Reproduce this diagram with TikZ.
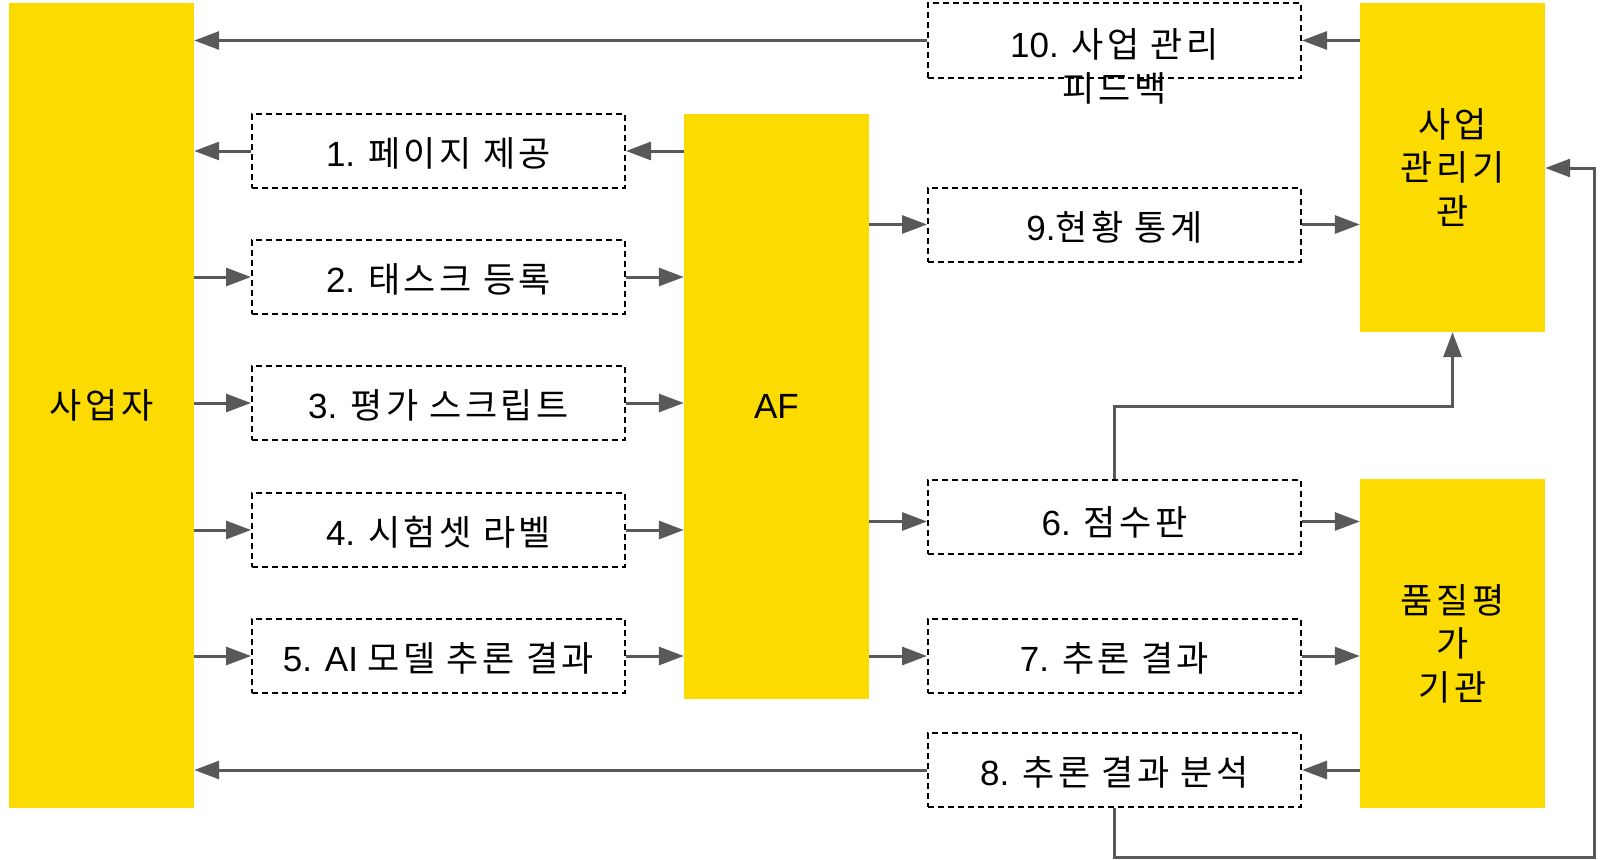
\documentclass[tikz,border=0pt]{standalone}
\usepackage{fontspec}
\setmainfont{Liberation Sans}
\newfontfamily\kr[LetterSpace=10]{Noto Sans CJK KR}
\usetikzlibrary{arrows.meta}
\definecolor{ylw}{RGB}{252,219,0}
\definecolor{arrgray}{RGB}{89,89,89}
\begin{document}
\begin{tikzpicture}[x=1pt,y=-1pt,
  every node/.style={font=\fontsize{35}{43.5}\selectfont, inner sep=0pt},
  ybox/.style={rectangle, fill=ylw, minimum width=185pt, align=center, font=\fontsize{35}{43.5}\selectfont\kr},
  dbox/.style={rectangle, draw=black, dash pattern=on 6pt off 4pt, line width=2pt, minimum width=373pt, minimum height=74pt, text height=34pt, text depth=3pt},
  arr/.style={draw=arrgray, line width=3pt, -{Triangle[length=25pt,width=18pt]}}]
\useasboundingbox (0,0) rectangle (1602,859);
% main blocks
\node[ybox, minimum height=805pt] (A) at (101.5,405.5) {사업자};
\node[ybox, minimum height=585pt, font=\fontsize{35}{43.5}\selectfont] (AF) at (776.5,406.5) {AF};
\node[ybox, minimum height=329pt] (M) at (1452.5,167.5) {사업\\관리기\\관};
\node[ybox, minimum height=329pt] (Q) at (1452.5,643.5) {품질평\\가\\기관};
% left dashed boxes
\node[dbox] (b1) at (438.5,151) {1. {\kr 페이지 제공}};
\node[dbox] (b2) at (438.5,277) {2. {\kr 태스크 등록}};
\node[dbox] (b3) at (438.5,403) {3. {\kr 평가 스크립트}};
\node[dbox] (b4) at (438.5,530) {4. {\kr 시험셋 라벨}};
\node[dbox] (b5) at (438.5,656) {5. AI {\kr 모델 추론 결과}};
% right dashed boxes
\node[dbox, minimum height=75pt] (b10) at (1114.5,40.5) {};
\node[align=center] (t10) at (1114.5,66.5) {10. {\kr 사업 관리}\\{\kr 피드백}};
\node[dbox] (b9) at (1114.5,224.5) {9.{\kr 현황 통계}};
\node[dbox] (b6) at (1114.5,516.5) {};
\node (t6) at (1114.5,522.5) {6. {\kr 점수판}};
\node[dbox] (b7) at (1114.5,656) {7. {\kr 추론 결과}};
\node[dbox] (b8) at (1114.5,770) {8. {\kr 추론 결과 분석}};
% connectors
\draw[arr] (b10.west) -- (A.east |- b10.west);
\draw[arr] (M.west |- b10.east) -- (b10.east);
\draw[arr] (b1.west) -- (A.east |- b1.west);
\draw[arr] (AF.west |- b1.east) -- (b1.east);
\foreach \b in {b2,b3,b4,b5}{
  \draw[arr] (A.east |- \b.west) -- (\b.west);
  \draw[arr] (\b.east) -- (AF.west |- \b.east);
}
\draw[arr] (AF.east |- b9.west) -- (b9.west);
\draw[arr] (b9.east) -- (M.west |- b9.east);
\coordinate (b6w) at ([yshift=-5pt]b6.west);
\coordinate (b6e) at ([yshift=-5pt]b6.east);
\draw[arr] (AF.east |- b6w) -- (b6w);
\draw[arr] (b6e) -- (Q.west |- b6e);
\draw[arr] (AF.east |- b7.west) -- (b7.west);
\draw[arr] (b7.east) -- (Q.west |- b7.east);
\draw[arr] (Q.west |- b8.east) -- (b8.east);
\draw[arr] (b8.west) -- (A.east |- b8.west);
\coordinate (c1) at (1594,857);
\coordinate (c2) at (1594,168);
\draw[arr] (b8.south) |- (c1) -- (c2) -- (M.east |- c2);
\coordinate (c3) at (1452.5,406);
\draw[arr] (b6.north) |- (c3) -- (M.south);
\end{tikzpicture}
\end{document}
